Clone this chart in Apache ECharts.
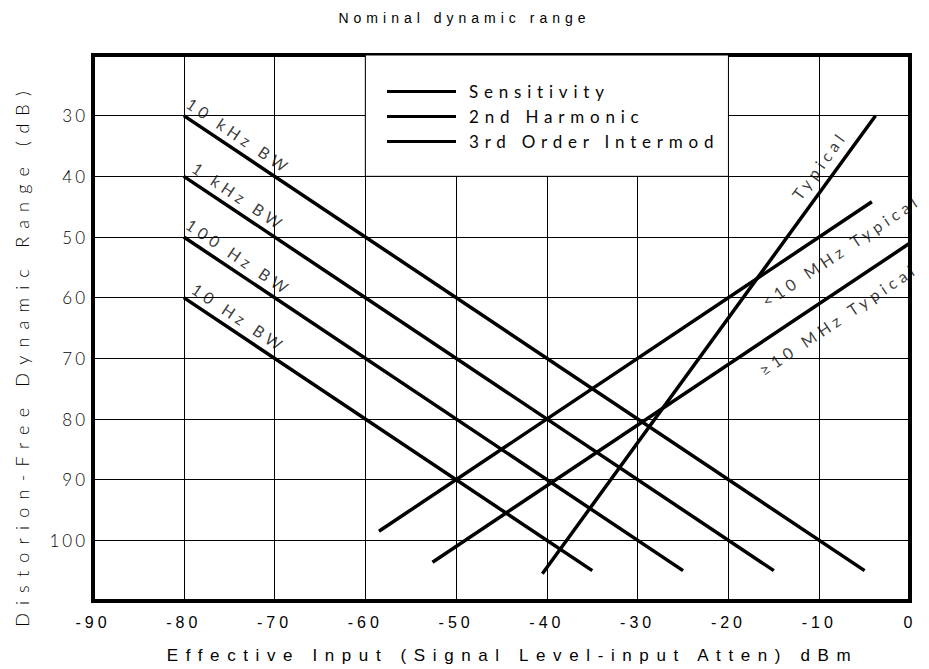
<!DOCTYPE html>
<html>
<head>
<meta charset="utf-8">
<script src="https://cdn.jsdelivr.net/npm/echarts@6/dist/echarts.min.js"></script>
<style>
html,body{margin:0;padding:0;background:#fff}
#c{width:929px;height:669px}
text[fill="#010101"]{letter-spacing:5px}
text[fill="#020202"]{letter-spacing:4px}
text[fill="#030303"]{letter-spacing:7.6px}
text[fill="#040404"]{letter-spacing:3px}
text[fill="#050505"]{letter-spacing:8.2px}
text[fill="#060606"]{letter-spacing:5.8px}
text[fill="#070707"]{letter-spacing:4.6px}
</style>
</head>
<body>
<div id="c"></div>
<script>
// ---- data ----
const chartTitle = 'Nominal dynamic range';
const xAxisName = 'Effective Input (Signal Level-input Atten) dBm';
const yAxisName = 'Distorion-Free Dynamic Range (dB)';
const xTicks = [-90, -80, -70, -60, -50, -40, -30, -20, -10, 0];
const yTicks = [30, 40, 50, 60, 70, 80, 90, 100];
const legendNames = ['Sensitivity', '2nd Harmonic', '3rd Order Intermod'];

const sensitivityLabels = ['10 kHz BW', '1 kHz BW', '100 Hz BW', '10 Hz BW'];
const sensitivityStart = [[-80, 30], [-80, 40], [-80, 50], [-80, 60]];
const sensitivityEnd = [[-5, 105], [-15, 105], [-25, 105], [-35, 105]];

const harmonicLabels = ['<10 MHz Typical', '\u226510 MHz Typical'];
const harmonicStart = [[-58.5, 98.5], [-52.6, 103.6]];
const harmonicEnd = [[-4.2, 44.2], [0, 51]];

const intermodLabels = ['Typical'];
const intermodStart = [[-40.5, 105.5]];
const intermodEnd = [[-3.8, 30]];

const legendBox = [[-60, 20], [-20, 40]];

// ---- layout ----
const W = 929, H = 669;
const G = {left: 93, right: 19, top: 55, bottom: 65};
const pxPerX = (W - G.left - G.right) / 90;
const pxPerY = (H - G.top - G.bottom) / 90;
const thinFont = 'Lato, "Open Sans", sans-serif';
const armFont = '"Liberation Sans", Arial, sans-serif';

// label placement (x along the line, vertical shift in data units)
const sensPlace = {x: -73.9, dy: -2.8};
const harmPlace = [{x: -7.6, dy: 4.6}, {x: -7.9, dy: 4.6}];
const interPlace = [{x: -10.0, dy: -4.6}];

function lineY(s, e, x) { return s[1] + (e[1] - s[1]) * (x - s[0]) / (e[0] - s[0]); }
function angle(s, e) {
  const slope = (e[1] - s[1]) / (e[0] - s[0]);
  return -Math.atan(slope * pxPerY / pxPerX) * 180 / Math.PI;
}

const series = [];
const labelPts = [];
function addGroup(name, starts, ends, labels, places) {
  starts.forEach((s, i) => {
    const e = ends[i];
    series.push({
      type: 'line', name: name, data: [s, e], symbol: 'none', silent: true,
      lineStyle: {color: '#000', width: 3.5}, itemStyle: {color: '#000'}, z: 3
    });
    const p = Array.isArray(places) ? places[i] : places;
    labelPts.push({
      name: labels[i],
      value: [p.x, lineY(s, e, p.x) + p.dy],
      label: {rotate: angle(s, e)}
    });
  });
}
addGroup(legendNames[0], sensitivityStart, sensitivityEnd, sensitivityLabels, sensPlace);
addGroup(legendNames[1], harmonicStart, harmonicEnd, harmonicLabels, harmPlace);
addGroup(legendNames[2], intermodStart, intermodEnd, intermodLabels, interPlace);

series.unshift({
  type: 'line', data: [], silent: true,
  markArea: {
    silent: true,
    itemStyle: {color: '#fff', borderColor: '#000', borderWidth: 1, opacity: 1},
    data: [[{coord: legendBox[0]}, {coord: legendBox[1]}]]
  }, z: 2
});

series.push({
  type: 'scatter', data: labelPts, symbolSize: 1, silent: true,
  itemStyle: {color: 'rgba(0,0,0,0)'},
  label: {
    show: true, position: 'inside', formatter: p => p.name,
    fontFamily: thinFont, fontWeight: 400, fontSize: 16, color: '#070707'
  }, z: 5
});

const chart = echarts.init(document.getElementById('c'), null, {renderer: 'svg'});
chart.setOption({
  animation: false,
  backgroundColor: '#fff',
  title: {
    text: chartTitle, left: 'center', top: 6,
    textStyle: {fontFamily: armFont, fontSize: 14, fontWeight: 'normal', color: '#010101'}
  },
  legend: {
    data: legendNames, orient: 'vertical', left: 382, top: 78,
    icon: 'rect', itemWidth: 69, itemHeight: 3, itemGap: 8,
    selectedMode: false,
    textStyle: {fontFamily: thinFont, fontWeight: 400, fontSize: 17, color: '#060606', padding: [0, 0, 0, 8]}
  },
  grid: {
    left: G.left, right: G.right, top: G.top, bottom: G.bottom,
    show: true, borderColor: '#000', borderWidth: 4, backgroundColor: 'transparent'
  },
  xAxis: {
    type: 'value', min: -90, max: 0, interval: 10,
    name: xAxisName, nameLocation: 'middle', nameGap: 46,
    nameTextStyle: {fontFamily: armFont, fontSize: 17, color: '#030303', padding: [0, 0, 0, 22]},
    axisLine: {show: false}, axisTick: {show: false},
    splitLine: {show: true, lineStyle: {color: '#000', width: 1}},
    axisLabel: {
      margin: 13, fontFamily: armFont, fontSize: 16, color: '#020202',
      formatter: v => xTicks.includes(v) ? String(v) : ''
    }
  },
  yAxis: {
    type: 'value', min: 20, max: 110, interval: 10, inverse: true,
    name: yAxisName, nameLocation: 'middle', nameGap: 62, nameRotate: 90,
    nameTextStyle: {fontFamily: thinFont, fontWeight: 300, fontSize: 18, color: '#050505', padding: [0, 54, 0, 0]},
    axisLine: {show: false}, axisTick: {show: false},
    splitLine: {show: true, lineStyle: {color: '#000', width: 1}},
    axisLabel: {
      margin: 5, fontFamily: thinFont, fontWeight: 300, fontSize: 17, color: '#040404',
      formatter: v => yTicks.includes(v) ? String(v) : ''
    }
  },
  series: series
});
</script>
</body>
</html>
